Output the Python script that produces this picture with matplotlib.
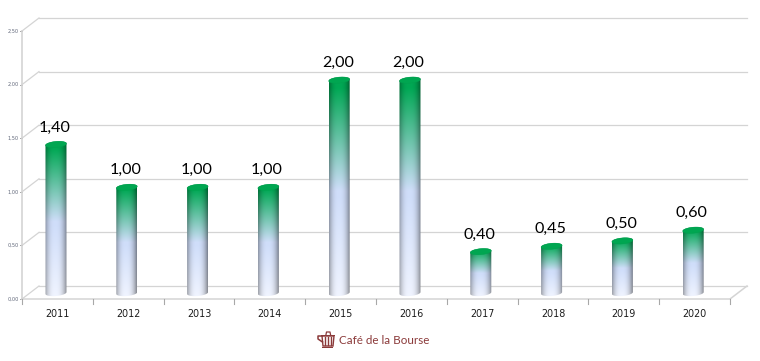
import matplotlib.pyplot as plt
import numpy as np
from matplotlib.patches import Rectangle, Polygon
from matplotlib.path import Path

years = ["2011", "2012", "2013", "2014", "2015", "2016", "2017", "2018", "2019", "2020"]
dividends = [1.40, 1.00, 1.00, 1.00, 2.00, 2.00, 0.40, 0.45, 0.50, 0.60]
y_ticks = [0.0, 0.5, 1.0, 1.5, 2.0, 2.5]
y_labels = ["0,00", "0,50", "1,00", "1,50", "2,00", "2,50"]
value_labels = ["1,40", "1,00", "1,00", "1,00", "2,00", "2,00", "0,40", "0,45", "0,50", "0,60"]

W, H = 760, 361
LEFT, RIGHT, BOTTOM, TOP = 22, 730, 299, 31
GRID = "#d4d4d4"

fig = plt.figure(figsize=(W / 100, H / 100), dpi=100)
ax = fig.add_axes([LEFT / W, 1 - BOTTOM / H, (RIGHT - LEFT) / W, (BOTTOM - TOP) / H])

# size of one pixel in data units
n = len(years)
px = n / (RIGHT - LEFT)
py = 2.5 / (BOTTOM - TOP)
dx, dy = 17 * px, 13 * py

# 3d walls
for t in y_ticks:
    ax.plot([dx, n + dx], [t + dy, t + dy], color=GRID, lw=0.9, clip_on=False, zorder=1)
    ax.plot([0, dx], [t, t + dy], color=GRID, lw=0.9, clip_on=False, zorder=1)
    ax.plot([-2 * px, 0], [t, t], color="#a8a8a8", lw=0.7, clip_on=False, zorder=1)
ax.plot([0, 0], [0, 2.5], color=GRID, lw=1.2, clip_on=False, zorder=1)
ax.plot([0, n, n + dx], [0, 0, dy], color=GRID, lw=1.1, clip_on=False, zorder=1)
for i in range(n + 1):
    ax.plot([i, i], [0, -5 * py], color="#a8a8a8", lw=0.8, clip_on=False, zorder=1)

for t, lab in zip(y_ticks, y_labels):
    ax.text(-9 * px, t, lab, fontsize=3.6, color="#5f6678", ha="center", va="center",
            family="DejaVu Sans")

for i, year in enumerate(years):
    ax.text(i + 0.5, -15 * py, year, fontsize=6.9, color="#1c1c1c", ha="center", va="center",
            family="DejaVu Sans")

half_w = 10.5 * px
ell = 3.0 * py
tilt = 0.9 * py
base = 6.0 * py


def bar_image(height_px):
    rows = max(int(height_px), 2)
    v = np.linspace(0, 1, rows)[:, None]
    u = np.linspace(-1, 1, 42)[None, :]
    green = np.array([0, 168, 84]) / 255
    blue = np.array([208, 222, 250]) / 255
    white = np.array([240, 244, 255]) / 255
    mix = np.clip((v - 0.05) / 0.47, 0, 1)
    img = (1 - mix[..., None]) * green + mix[..., None] * blue
    low = np.clip((v - 0.55) / 0.45, 0, 1)
    img = (1 - low[..., None]) * img + low[..., None] * white
    shade = 1 - 0.38 * np.abs(u + 0.05) ** 2.6
    return np.clip(img * shade[..., None], 0, 1)


for i, val in enumerate(dividends):
    cx = i + 0.48
    top = val + 4.5 * py
    t = np.linspace(0, np.pi, 40)
    xs = cx + half_w * np.cos(t)
    # edges rise slightly to the right
    top_edge = top + ell * np.sin(t) + tilt * np.cos(t)
    bot_edge = base - ell * np.sin(t) + tilt * np.cos(t)
    verts = list(zip(xs, top_edge)) + list(zip(xs[::-1], bot_edge[::-1])) + [(xs[0], top_edge[0])]
    im = ax.imshow(bar_image((top - base) / py),
                   extent=[cx - half_w, cx + half_w, base - ell - tilt, top + ell + tilt],
                   aspect="auto", interpolation="bilinear", zorder=3)
    im.set_clip_path(Path(verts), ax.transData)
    im.set_clip_on(True)
    # cap
    t2 = np.linspace(0, 2 * np.pi, 60)
    cap = np.column_stack([cx + half_w * np.cos(t2), top + ell * np.sin(t2) + tilt * np.cos(t2)])
    ax.add_patch(Polygon(cap, closed=True, facecolor="#00a651", edgecolor="#00a04e", lw=0.3, zorder=4, clip_on=False))
    ax.text(cx - 0.02, top + 17 * py, value_labels[i], fontsize=11.6, color="#000000", ha="center", va="center",
            family="Lato", zorder=5)

ax.set_xlim(0, n)
ax.set_ylim(0, 2.5)
ax.axis("off")

# logo below the chart, pixel coords
RED = "#8b3a3a"
logo = fig.add_axes([0, 0, 1, 1], facecolor="none")
logo.set_xlim(0, W)
logo.set_ylim(H, 0)
logo.axis("off")
logo.text(339, 340.5, "Café de la Bourse", fontsize=8.4, color=RED, family="Lato", ha="left", va="center")
logo.add_patch(Rectangle((321, 334.5), 13.5, 1.6, color=RED, lw=0))
logo.add_patch(Polygon([(322, 336), (334, 336), (333, 346), (323, 346)], closed=True, facecolor="none", edgecolor=RED, lw=1))
for x in (325.2, 328, 330.8):
    logo.plot([x, x], [337, 345], color=RED, lw=1)
logo.add_patch(Rectangle((322, 346.5), 11, 1.5, color=RED, lw=0))
logo.plot([322, 318, 318, 322.5], [336, 336, 339, 342], color=RED, lw=1.1)
logo.plot([326, 326.5, 330, 330.5], [334.5, 332, 332, 334.5], color=RED, lw=0.9)

fig.savefig("out.png", dpi=100)
